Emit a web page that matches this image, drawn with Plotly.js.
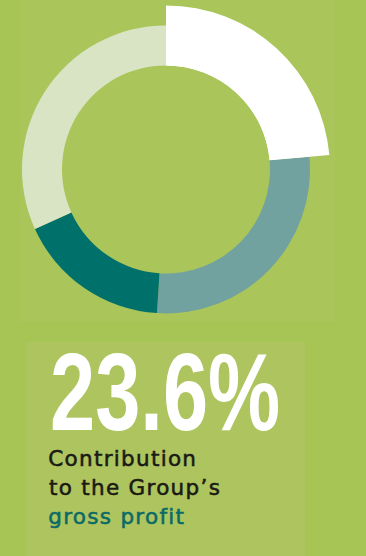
<!DOCTYPE html>
<html>
<head>
<meta charset="utf-8">
<script src="https://cdn.plot.ly/plotly-3.0.1.min.js"></script>
<style>
html, body { margin: 0; padding: 0; background: #a6c554; }
#chart { width: 366px; height: 556px; }
.annotation[data-index="0"] text { transform-box: fill-box; transform-origin: 0% 50%; transform: scaleX(0.745); }
.annotation[data-index="1"] text, .annotation[data-index="2"] text, .annotation[data-index="3"] text { letter-spacing: 1.3px; stroke-width: 0.55px; }
.annotation[data-index="1"] text, .annotation[data-index="2"] text { stroke: #1a1a14; }
.annotation[data-index="3"] text { stroke: #0b6a66; }
</style>
</head>
<body>
<div id="chart"></div>
<script>
// Data (share of gross profit, %)
const segments = ["This business", "Segment B", "Segment C", "Segment D"];
const shares = [23.6, 27.4, 17.2, 31.8];
const headline = "23.6%";
const captionLines = ["Contribution", "to the Group’s", "gross profit"];

const sliceColors = ["#ffffff", "#72a29f", "#00706b", "#d8e4c3"];
const highlightColors = ["#ffffff", "rgba(0,0,0,0)", "rgba(0,0,0,0)", "rgba(0,0,0,0)"];

const W = 366, H = 556;
const px = v => v / W;
const py = v => 1 - v / H;

const cx = 166, cy = 169.4, rOuter = 144, rInner = 104, rBig = 164;

const base = {
  type: "pie",
  labels: segments,
  values: shares,
  sort: false,
  direction: "clockwise",
  rotation: 0,
  textinfo: "none",
  hoverinfo: "label+percent",
  showlegend: false,
  marker: { line: { width: 0 } }
};

const traces = [
  Object.assign({}, base, {
    hole: rInner / rOuter,
    marker: { colors: sliceColors, line: { width: 0 } },
    domain: { x: [px(cx - rOuter), px(cx + rOuter)], y: [py(cy + rOuter), py(cy - rOuter)] }
  }),
  Object.assign({}, base, {
    hole: rInner / rBig,
    marker: { colors: highlightColors, line: { width: 0 } },
    domain: { x: [px(cx - rBig), px(cx + rBig)], y: [py(cy + rBig), py(cy - rBig)] }
  })
];

const textFont = "DejaVu Sans, sans-serif";
const capSize = 21.5, ls = 1.3;
const capX = line => px(46.6 + line.length * ls / 2);
const capBaselines = [466, 495, 524];
const capColors = ["#1a1a14", "#1a1a14", "#0b6a66"];

const annotations = [
  { text: headline, x: px(48), y: py(430 - 0.3465 * 109), xref: "paper", yref: "paper",
    xanchor: "left", yanchor: "middle", showarrow: false, height: 86, valign: "middle",
    font: { family: "Liberation Sans, Arial, sans-serif", size: 109, color: "#ffffff", weight: "bold" } }
].concat(captionLines.map((t, i) => ({
  text: t, x: capX(t), y: py(capBaselines[i] - 0.346 * capSize), xref: "paper", yref: "paper",
  xanchor: "left", yanchor: "middle", showarrow: false,
  font: { family: textFont, size: capSize, color: capColors[i] }
})));

const shapes = [
  { type: "rect", xref: "paper", yref: "paper", layer: "below",
    x0: px(20), x1: px(335), y0: py(322), y1: py(0),
    fillcolor: "#aac55a", line: { width: 0 } },
  { type: "rect", xref: "paper", yref: "paper", layer: "below",
    x0: px(26), x1: px(305), y0: py(556), y1: py(342),
    fillcolor: "#aec45f", line: { width: 0 } }
];

const layout = {
  width: W, height: H,
  margin: { l: 0, r: 0, t: 0, b: 0 },
  paper_bgcolor: "#a6c554",
  plot_bgcolor: "#a6c554",
  showlegend: false,
  annotations: annotations,
  shapes: shapes
};

Plotly.newPlot("chart", traces, layout, { displayModeBar: false, staticPlot: true });
</script>
</body>
</html>
